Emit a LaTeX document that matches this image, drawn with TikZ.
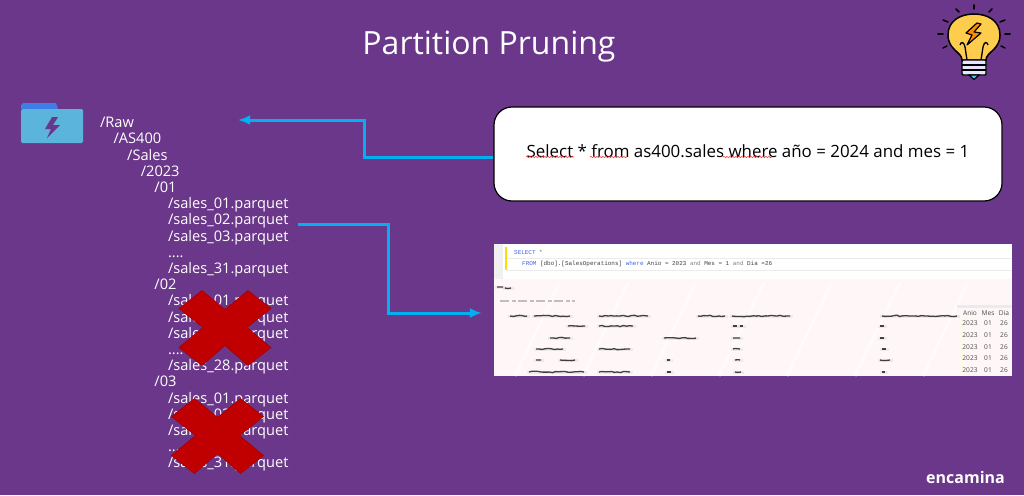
\documentclass[tikz,border=0pt]{standalone}
\usepackage{fontspec}
\setmainfont{Open Sans}
\setmonofont{Liberation Mono}
\usetikzlibrary{arrows.meta,positioning,decorations.pathmorphing}
\definecolor{slidebg}{RGB}{107,55,138}
\definecolor{flowblue}{RGB}{0,176,240}
\definecolor{crossred}{RGB}{192,0,0}
\definecolor{folderblue}{RGB}{90,180,220}
\definecolor{bulbyellow}{RGB}{255,205,77}
\definecolor{codeblue}{RGB}{70,100,235}

\begin{document}
\begin{tikzpicture}[x=1pt, y=-1pt]
\tikzset{
    filenode/.style={inner sep=0pt, outer sep=0pt, text height=11.5pt, text depth=4.7pt, text=white, font=\fontsize{14.6}{16}\selectfont},
    sub/.style={filenode, below right=0pt and 13.6pt of #1.south west},
    same/.style={filenode, below right=0pt and 0pt of #1.south west},
    back/.style={filenode, below right=0pt and -13.6pt of #1.south west},
    flowarrow/.style={-{Latex[length=12pt,width=10pt]}, draw=flowblue, line width=3pt},
    querybox/.style={rectangle, rounded corners=18pt, draw=black, fill=white, line width=1.2pt, minimum width=508pt, minimum height=94pt, font=\fontsize{16.9}{20}\selectfont},
    squiggle/.style={draw=red!80!white, line width=.6pt, decorate, decoration={snake, amplitude=.6pt, segment length=3pt}},
    smudge/.style={draw=black!75, line width=1.3pt, decorate, decoration={random steps, segment length=3pt, amplitude=.7pt}},
    halo/.style={draw=black!20, line width=3pt, opacity=.3},
    cell/.style={inner sep=0pt, text=black!70, font=\fontsize{6.6}{8}\selectfont},
    ray/.style={draw=black, line width=1.5pt, line cap=round},
    redcross/.pic={
        \draw[fill=crossred, draw=crossred!85!black, line width=.6pt]
            (-23,-37) -- (0,-18) -- (23,-37) -- (46,-19) -- (22,0) -- (46,20) -- (23,38)
            -- (0,18) -- (-23,38) -- (-46,20) -- (-22,0) -- (-46,-19) -- cycle;
    }
}
\fill[slidebg] (0,0) rectangle (1024,495);
\useasboundingbox (0,0) rectangle (1024,495);

\node[text=white, font=\fontsize{32}{36}\selectfont] (title) at (489,47) {Partition Pruning};
\node[text=white, font=\bfseries\fontsize{16}{18}\selectfont] (logo) at (965.5,477) {encamina};

% the folder
\fill[folderblue!70!blue] (21,109) -- (21,105) -- (23,103) -- (56,103) -- (58,109) -- cycle;
\fill[folderblue, rounded corners=1.5pt] (21,109) rectangle (83,143);
\fill[slidebg] (52,117) -- (45,129) -- (51,129) -- (47,138) -- (60,125) -- (53,125) -- (58,117) -- cycle;

% the tree of files, one line below the other
\node[filenode, anchor=north west] (raw) at (100,116.2) {/Raw};
\node[sub=raw] (as400) {/AS400};
\node[sub=as400] (sales) {/Sales};
\node[sub=sales] (year) {/2023};
\node[sub=year] (m01) {/01};
\node[sub=m01] (f0101) {/sales\_01.parquet};
\node[same=f0101] (f0102) {/sales\_02.parquet};
\node[same=f0102] (f0103) {/sales\_03.parquet};
\node[same=f0103] (f01dots) {....};
\node[same=f01dots] (f0131) {/sales\_31.parquet};
\node[back=f0131] (m02) {/02};
\node[sub=m02] (f0201) {/sales\_01.parquet};
\node[same=f0201] (f0202) {/sales\_02.parquet};
\node[same=f0202] (f0203) {/sales\_03.parquet};
\node[same=f0203] (f02dots) {....};
\node[same=f02dots] (f0228) {/sales\_28.parquet};
\node[back=f0228] (m03) {/03};
\node[sub=m03] (f0301) {/sales\_01.parquet};
\node[same=f0301] (f0302) {/sales\_02.parquet};
\node[same=f0302] (f0303) {/sales\_03.parquet};
\node[same=f0303] (f03dots) {....};
\node[same=f03dots] (f0331) {/sales\_31.parquet};

\pic at (225,327.5) {redcross};
\pic at (217.5,435.5) {redcross};

% the query
\node[querybox] (query) at (748,154) {\raisebox{6pt}{Select * from as400.sales where año = 2024 and mes = 1}};
\draw[squiggle] (526,157) -- (574,157);
\draw[squiggle] (590,157) -- (627,157);
\draw[squiggle] (723,157) -- (772,157);

% the screenshot
\node[rectangle, fill=white, inner sep=0pt, minimum width=518pt, minimum height=132pt] (shot) at (753,310) {};
\fill[red!3] (494,279) rectangle (1012,376);
\foreach \xs in {515,583,...,960}
    \draw[white, line width=3pt, opacity=.6] (\xs,376) -- (\xs+45,282);
\fill[black!6] (494,244) rectangle (503,279);
\fill[yellow!80!orange] (504.5,247) rectangle (506.5,270);
\draw[black!8] (507,258) -- (1012,258) (507,270) -- (1012,270);
\node[inner sep=0pt, anchor=west, font=\ttfamily\fontsize{5.95}{7}\selectfont] (select) at (514,252)
    {\textcolor{codeblue}{SELECT} \textcolor{black!60}{*}};
\node[inner sep=0pt, anchor=west, text=black!75, font=\ttfamily\fontsize{5.95}{7}\selectfont] (from) at (522,264)
    {\textcolor{codeblue}{FROM} [dbo].[SalesOperations] \textcolor{codeblue}{where} Anio = 2023 \textcolor{black!50}{and} Mes = 1 \textcolor{black!50}{and} Dia =26};
\foreach \xa/\xb/\yy in {497/503/287, 505/511/288, 510/527/316, 534/570/316, 599/648/316, 698/725/316, 732/790/316, 882/957/316,
    568/585/326, 599/633/326, 733/737/326, 740/743/326, 880/884/326,
    550/570/338, 664/696/338, 733/740/338, 880/884/338,
    536/563/349, 599/630/349, 733/740/349, 882/886/349,
    536/541/360, 560/575/360, 667/670/360, 735/740/360, 880/890/360,
    529/584/372, 599/630/372, 667/671/372, 735/741/372, 882/885/372} {
    \draw[halo] (\xa-2,\yy) -- (\xb+3,\yy);
    \draw[smudge] (\xa,\yy) -- (\xb,\yy);
}
\draw[black!25, line width=1.5pt, dash pattern=on 9pt off 3pt on 4pt off 2pt] (500,301) -- (575,301);
\fill[black!8] (957,305) rectangle (1012,308);
\fill[yellow!15] (961,318) rectangle (963,376);
\foreach \rowy/\rowname in {323/a, 335/b, 347/c, 358/d, 370/e} {
    \node[cell] (year\rowname) at (970,\rowy) {2023};
    \node[cell] (month\rowname) at (988,\rowy) {01};
    \node[cell] (day\rowname) at (1004,\rowy) {26};
}
\node[cell] (anio) at (970,313) {Anio};
\node[cell] (mes) at (988,313) {Mes};
\node[cell] (dia) at (1004,313) {Dia};

% the arrows
\coordinate (rawtip) at (238,120);
\draw[flowarrow] ([yshift=-3pt]query.west) -- ++(-129,0) |- (rawtip);
\draw[flowarrow] ([xshift=10pt,yshift=-3pt]f0102.east) -- ++(90,0) |- ([xshift=-12pt,yshift=-3pt]shot.west);

% the bulb
\foreach \xa/\ya/\xb/\yb in {938/34/943/34, 1005/34/1010/34, 974/5/974/9, 956/9/959/12, 992/9/989/12,
    943/20/948/22, 1005/20/1000/22, 943/48/947/46, 1005/48/1001/46}
    \draw[ray] (\xa,\ya) -- (\xb,\yb);
\draw[fill=bulbyellow, line width=1.5pt] (962,60) .. controls (962,52) and (948,50) .. (948,35)
    .. controls (948,21) and (960,14) .. (974,14) .. controls (988,14) and (1000,21) .. (1000,35)
    .. controls (1000,50) and (986,52) .. (986,60) -- cycle;
\draw[line width=1.3pt] (967,60) -- (965,47) .. controls (964,42) and (961,41) .. (960,45)
    (981,60) -- (983,47) .. controls (984,42) and (987,41) .. (988,45);
\draw[fill=orange!90!yellow, line width=1.2pt, line join=round] (977,23) -- (966,33) -- (972,35) -- (967,45) -- (981,33) -- (974,32) -- (981,24) -- cycle;
\draw[fill=blue!10!white, line width=1.4pt, rounded corners=1pt] (962,60) rectangle (986,75);
\draw[line width=1.2pt] (962,65) -- (986,65) (962,70) -- (986,70);
\draw[fill=flowblue!70, line width=1.2pt] (969,75) -- (974,79.5) -- (979,75) -- cycle;
\end{tikzpicture}
\end{document}
